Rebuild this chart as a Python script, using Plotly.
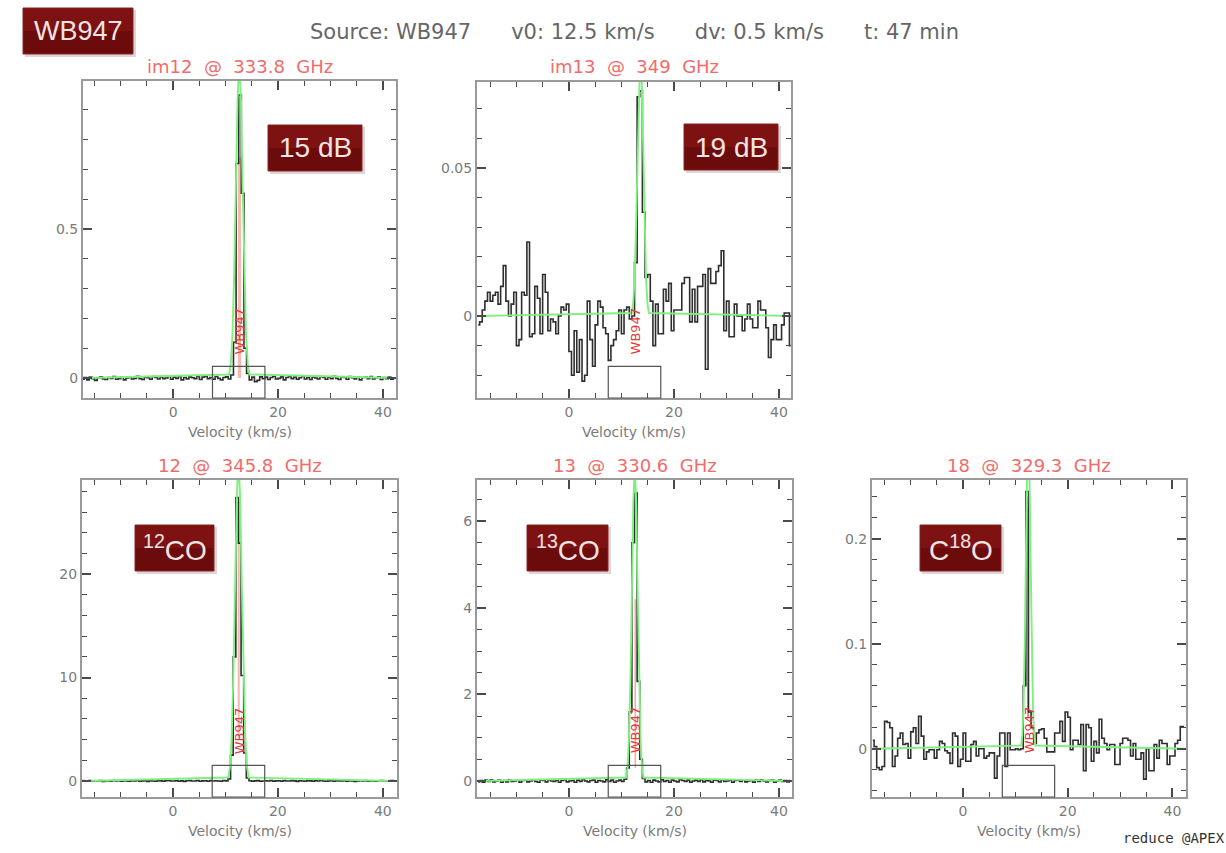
import numpy as np
import plotly.graph_objects as go

W, H = 1226, 853

# ---------------- data ----------------
V_START = -17.25      # centre of first channel (km/s)
DV = 0.5              # channel width (km/s)

titles = ["im12 @ 333.8 GHz", "im13 @ 349 GHz", "12 @ 345.8 GHz",
          "13 @ 330.6 GHz", "18 @ 329.3 GHz"]
badge_texts = ["15 dB", "19 dB", "<sup>12</sup>CO", "<sup>13</sup>CO", "C<sup>18</sup>O"]
header_parts = ["Source: WB947", "v0: 12.5 km/s", "dv: 0.5 km/s", "t: 47 min"]
source_name = "WB947"
credit = "reduce @APEX"

# spectra (one value per 0.5 km/s channel, 120 channels)
spec_im12_mK = [
    -4, 2, -6, 3, -2, -8, 1, 4, -3, -5,
    2, -1, 5, -4, -2, 3, -6, 0, 4, -3,
    -1, 6, -2, -5, 3, 1, -4, 5, 2, -3,
    4, -2, 0, 6, -4, 3, -1, 5, -6, 2,
    -3, 4, 1, -2, 5, -5, 3, 6, -2, 2,
    -4, 5, -1, -6, 2, 4, -3, 10, 120, 720,
    950, 620, 100, 15, -6, 3, -12, -8, 4, -2,
    3, -5, 2, 6, -3, -1, 4, -6, 2, 5,
    -2, 3, -4, 1, 6, -3, 2, -5, 4, 0,
    -3, 5, 2, -4, 3, -2, 6, -1, -5, 3,
    2, -4, 5, 1, -3, 4, -6, 2, 3, -2,
    5, -3, 1, 4, -5, 2, -2, 3, -4, 1,
]
spec_im13_mK = [
    -3, -2, 2, 5, 8, 5, 7, 8, 4, 10,
    17, 5, 0, 4, 8, -10, -8, 8, 7, 25,
    -7, -6, 10, 6, -6, 14, 8, -5, -1, -2,
    -6, 0, 3, 2, 4, -12, -20, -5, -19, -8,
    -22, -20, 5, -8, -17, -3, 5, 3, -4, -6,
    -15, -10, -8, -5, 2, -6, 2, 3, -1, 0,
    18, 74, 76, 35, 13, 14, 5, -10, 4, -6,
    -6, 9, 5, 11, -5, 2, 2, 2, 11, 13,
    13, -2, 9, -2, 10, 10, 14, -18, 16, 11,
    11, 15, 17, 22, -5, 5, -7, -7, 4, 0,
    0, -5, -1, 4, -1, -4, -4, 5, 2, 2,
    -4, -14, -8, -3, -8, -8, -3, 1, 1, -10,
]
spec_12co_K = [
    0.03, -0.02, 0.01, 0.04, -0.03, 0.02, -0.01, 0.03, -0.04, 0.01,
    0.02, -0.03, 0.04, -0.01, 0.02, -0.02, 0.03, 0.00, -0.03, 0.02,
    -0.01, 0.04, -0.02, 0.01, 0.03, -0.04, 0.02, 0.00, -0.02, 0.03,
    0.01, -0.03, 0.02, 0.04, -0.01, 0.00, 0.03, -0.02, 0.01, -0.04,
    0.02, 0.03, -0.01, 0.00, 0.04, -0.03, 0.01, 0.02, -0.02, 0.03,
    -0.01, 0.02, 0.00, -0.03, 0.04, 0.01, 0.20, 2.50, 12.0, 27.4,
    23.0, 10.2, 2.70, 0.30, 0.02, -0.03, 0.01, 0.03, -0.02, 0.00,
    0.02, -0.01, 0.04, -0.03, 0.01, 0.02, -0.02, 0.03, 0.00, -0.01,
    0.03, 0.01, -0.04, 0.02, 0.00, -0.02, 0.03, 0.01, -0.03, 0.02,
    -0.01, 0.04, 0.00, -0.02, 0.01, 0.03, -0.03, 0.02, 0.01, -0.01,
    0.02, -0.02, 0.03, 0.00, -0.04, 0.01, 0.02, -0.01, 0.03, -0.02,
    0.01, 0.00, -0.03, 0.02, 0.04, -0.01, 0.01, -0.02, 0.03, 0.00,
]
spec_13co_K = [
    -0.02, 0.01, -0.03, 0.02, -0.01, 0.03, -0.02, 0.00, 0.02, -0.03,
    0.01, -0.02, 0.03, -0.01, 0.00, 0.02, -0.03, 0.01, 0.02, -0.02,
    0.00, 0.03, -0.01, -0.03, 0.02, 0.01, -0.02, 0.03, 0.00, -0.01,
    0.02, -0.03, 0.01, 0.03, -0.02, 0.00, 0.01, -0.03, 0.02, -0.01,
    0.03, 0.00, -0.02, 0.01, 0.02, -0.03, 0.01, 0.00, -0.02, 0.03,
    -0.01, 0.02, -0.03, 0.00, 0.02, -0.01, 0.04, 0.30, 1.60, 5.50,
    6.65, 2.30, 0.50, 0.06, -0.02, 0.01, -0.03, 0.02, 0.00, -0.02,
    0.03, -0.01, 0.01, -0.03, 0.02, 0.00, -0.02, 0.03, 0.01, -0.01,
    0.02, -0.03, 0.00, 0.02, -0.01, 0.03, -0.02, 0.01, 0.00, -0.03,
    0.02, 0.01, -0.02, 0.03, -0.01, 0.00, 0.02, -0.03, 0.01, 0.02,
    -0.01, 0.03, -0.02, 0.00, 0.01, -0.03, 0.02, -0.01, 0.03, 0.00,
    -0.02, 0.01, 0.02, -0.03, 0.00, 0.02, -0.01, 0.01, -0.02, 0.01,
]
spec_c18o_mK = [
    8, 2, -18, -20, -17, 26, 25, 20, -17, -7,
    10, 15, 4, 5, -9, 16, 20, 5, 31, 12,
    -10, -3, -1, -1, -9, -1, 7, 5, -2, -4,
    -14, 15, 12, -17, -10, 15, -12, -12, 4, 7,
    -7, 0, 0, -9, -7, -4, -4, -28, -7, 15,
    15, -17, 15, -1, -1, 0, -1, 0, 60, 245,
    35, 20, 5, 15, 18, 19, 10, -3, -3, -3,
    15, 15, 26, 7, 35, 30, -1, 8, 8, 4,
    23, -21, 23, 20, -12, 7, -4, 28, 10, 5,
    -1, 4, 4, -15, -15, 5, 10, 10, 8, -7,
    5, -10, -10, -4, -29, 0, -21, -21, 4, -9,
    8, 5, 5, -15, -7, -7, 5, 8, 21, 21,
]

# Gaussian fit curves (green), sampled points
fit_im12_v = [-17.5, 10.65, 10.98, 11.3, 11.63, 11.95, 12.28, 12.6, 12.93, 13.25, 13.58, 13.9, 14.23, 14.55, 42.5]
fit_im12_T = [0, 0.012, 0.047, 0.143, 0.344, 0.643, 0.935, 1.06, 0.935, 0.643, 0.344, 0.143, 0.047, 0.012, 0]
fit_im13_v = [-17.5, 11.95, 12.23, 12.5, 12.78, 13.05, 13.33, 13.6, 13.88, 14.15, 14.43, 14.7, 14.98, 15.25, 42.5]
fit_im13_T = [0, 0.001, 0.004, 0.012, 0.029, 0.055, 0.079, 0.09, 0.079, 0.055, 0.029, 0.012, 0.004, 0.001, 0]
fit_12co_v = [-17.5, 10.55, 10.88, 11.2, 11.53, 11.85, 12.18, 12.5, 12.83, 13.15, 13.48, 13.8, 14.13, 14.45, 42.5]
fit_12co_T = [0, 0.34, 1.36, 4.19, 10.07, 18.8, 27.36, 31.0, 27.36, 18.8, 10.07, 4.19, 1.36, 0.34, 0]
fit_13co_v = [-17.5, 10.9, 11.18, 11.45, 11.73, 12.0, 12.28, 12.55, 12.83, 13.1, 13.38, 13.65, 13.93, 14.2, 42.5]
fit_13co_T = [0, 0.08, 0.32, 0.99, 2.37, 4.43, 6.44, 7.3, 6.44, 4.43, 2.37, 0.99, 0.32, 0.08, 0]
fit_c18o_v = [-17.5, 11.1, 11.33, 11.55, 11.78, 12.0, 12.23, 12.45, 12.68, 12.9, 13.13, 13.35, 13.58, 13.8, 42.5]
fit_c18o_T = [0, 0.003, 0.013, 0.041, 0.097, 0.182, 0.265, 0.3, 0.265, 0.182, 0.097, 0.041, 0.013, 0.003, 0]

# integrated-area (pink) strips: [v0, v1, Tlow, Thigh]
pink_im12 = [12.35, 12.95, 0.0, 0.74]
pink_12co = [12.35, 12.75, 4.0, 27.0]
pink_13co = [12.5, 12.8, 0.3, 4.2]
pink_c18o = [12.3, 12.55, 0.03, 0.24]

window_v = [7.5, 17.5]       # v0 +/- 5 km/s box
label_v = 12.6

# axis ranges and tick steps
x_ranges = [[-17.2, 42.5], [-17.5, 42.3], [-17.3, 42.7], [-17.5, 42.5], [-17.4, 42.6]]
y_ranges = [[-0.067, 0.997], [-0.0277, 0.079], [-1.55, 29.1], [-0.37, 6.95], [-0.046, 0.256]]
y_major = [0.5, 0.05, 10, 2, 0.1]
y_minor = [0.1, 0.01, 2, 0.5, 0.02]

# ---------------- assemble ----------------
chan_v = V_START + DV * np.arange(len(spec_im12_mK))
spectra = [np.array(spec_im12_mK) * 1e-3, np.array(spec_im13_mK) * 1e-3,
           np.array(spec_12co_K), np.array(spec_13co_K), np.array(spec_c18o_mK) * 1e-3]
fits = [(fit_im12_v, fit_im12_T), (fit_im13_v, fit_im13_T), (fit_12co_v, fit_12co_T),
        (fit_13co_v, fit_13co_T), (fit_c18o_v, fit_c18o_T)]
pinks = [pink_im12, None, pink_12co, pink_13co, pink_c18o]
pink_cols = ["rgba(244,160,150,0.75)", None, "rgba(244,160,150,0.75)",
             "rgba(244,150,140,0.8)", "rgba(220,60,50,0.9)"]

# panel frames in pixels: left, right, top, bottom
frames = [(83, 396, 81, 398), (477, 791, 82, 398), (82, 397, 480, 797),
          (477, 792, 480, 797), (872, 1186, 480, 797)]
badge_px = [(268, 362, 125, 171), (684, 778, 124, 170), (135, 214, 525, 571),
            (527, 608, 525, 571), (920, 1001, 525, 571)]

NB = "\u00a0"


def px(x):
    return x / W


def py(y):
    return 1 - y / H


def spaced(s, n=2):
    return s.replace(" ", NB * n)


fig = go.Figure()
shapes = []
annotations = []

TICK_FONT = dict(family="DejaVu Sans", size=14, color="#7a7a7a")
LABEL_FONT = dict(family="DejaVu Sans", size=14, color="#7a7a7a")

for i in range(5):
    sfx = "" if i == 0 else str(i + 1)
    xa, ya = "x" + sfx, "y" + sfx
    l, r, t, b = frames[i]

    if pinks[i] is not None:
        v0, v1, lo, hi = pinks[i]
        fig.add_trace(go.Scatter(x=[v0, v0, v1, v1, v0], y=[lo, hi, hi, lo, lo],
                                 fill="toself", fillcolor=pink_cols[i], mode="lines",
                                 line=dict(width=0), hoverinfo="skip", showlegend=False,
                                 xaxis=xa, yaxis=ya))
    fig.add_trace(go.Scatter(x=chan_v, y=spectra[i], mode="lines",
                             line=dict(color="#2e2e2e", width=1.6, shape="hvh"),
                             showlegend=False, xaxis=xa, yaxis=ya))
    fig.add_trace(go.Scatter(x=fits[i][0], y=fits[i][1], mode="lines",
                             line=dict(color="#7ef07e", width=1.9),
                             showlegend=False, xaxis=xa, yaxis=ya))

    axis_common = dict(showline=True, linecolor="#9a9a9a", linewidth=2, mirror="ticks",
                       ticks="inside", ticklen=9, tickwidth=1.5, tickcolor="#4a4a4a",
                       showgrid=False, zeroline=False, tickfont=TICK_FONT)
    fig.layout["xaxis" + sfx] = dict(
        axis_common, domain=[px(l), px(r)], range=x_ranges[i], anchor=ya,
        tick0=0, dtick=20,
        minor=dict(ticks="inside", ticklen=5, tickwidth=1.2, tickcolor="#4a4a4a",
                   dtick=5, tick0=0, showgrid=False))
    fig.layout["yaxis" + sfx] = dict(
        axis_common, domain=[py(b), py(t)], range=y_ranges[i], anchor=xa,
        tick0=0, dtick=y_major[i],
        minor=dict(ticks="inside", ticklen=5, tickwidth=1.2, tickcolor="#4a4a4a",
                   dtick=y_minor[i], tick0=0, showgrid=False))

    shapes.append(dict(type="rect", xref=xa, yref=ya + " domain",
                       x0=window_v[0], x1=window_v[1], y0=0, y1=0.1,
                       line=dict(color="#555555", width=1.2)))
    annotations.append(dict(x=label_v, y=0.13, xref=xa, yref=ya + " domain",
                            text=source_name, textangle=-90, showarrow=False,
                            font=dict(family="DejaVu Sans", size=13, color="#e23b3b")))
    annotations.append(dict(x=px((l + r) / 2), y=py(t - 15), xref="paper", yref="paper",
                            text=spaced(titles[i]), showarrow=False, xanchor="center",
                            yanchor="middle",
                            font=dict(family="DejaVu Sans", size=18, color="#f26b6b")))
    annotations.append(dict(x=px((l + r) / 2), y=py(b + 34), xref="paper", yref="paper",
                            text="Velocity (km/s)", showarrow=False, xanchor="center",
                            yanchor="middle", font=LABEL_FONT))

# badges
all_badges = [(23, 133, 8, 54, source_name, 27)] + \
             [(bp[0], bp[1], bp[2], bp[3], bt, 28) for bp, bt in zip(badge_px, badge_texts)]
for (l, r, t, b, txt, fs) in all_badges:
    shapes.append(dict(type="rect", xref="paper", yref="paper",
                       x0=px(l + 2), x1=px(r + 3), y0=py(b + 3), y1=py(t + 2),
                       fillcolor="rgba(120,90,90,0.25)", line=dict(width=0), layer="above"))
    shapes.append(dict(type="rect", xref="paper", yref="paper",
                       x0=px(l), x1=px(r), y0=py(b), y1=py(t),
                       fillcolor="#6c0b0b", line=dict(color="#8c2626", width=1), layer="above"))
    shapes.append(dict(type="rect", xref="paper", yref="paper",
                       x0=px(l + 1), x1=px(r - 1), y0=py((t + b) / 2), y1=py(t + 1),
                       fillcolor="rgba(160,30,30,0.35)", line=dict(width=0), layer="above"))
    annotations.append(dict(x=px((l + r) / 2), y=py((t + b) / 2), xref="paper", yref="paper",
                            text=txt, showarrow=False, xanchor="center", yanchor="middle",
                            font=dict(family="Liberation Sans", size=fs, color="#f2e4e4")))

# header
annotations.append(dict(x=px(634), y=py(32), xref="paper", yref="paper",
                        text=(NB * 6).join(spaced(p, 1) for p in header_parts),
                        showarrow=False, xanchor="center", yanchor="middle",
                        font=dict(family="DejaVu Sans", size=21, color="#666666")))
annotations.append(dict(x=px(1121), y=py(838), xref="paper", yref="paper", text=credit,
                        showarrow=False, xanchor="left", yanchor="middle",
                        font=dict(family="DejaVu Sans Mono", size=14, color="#333333")))

fig.update_layout(width=W, height=H, margin=dict(l=0, r=0, t=0, b=0),
                  paper_bgcolor="white", plot_bgcolor="white",
                  shapes=shapes, annotations=annotations, showlegend=False)

fig.write_html("out.html", config={"displayModeBar": False},
               post_script="document.body.style.margin='0';document.body.style.overflow='hidden';")
